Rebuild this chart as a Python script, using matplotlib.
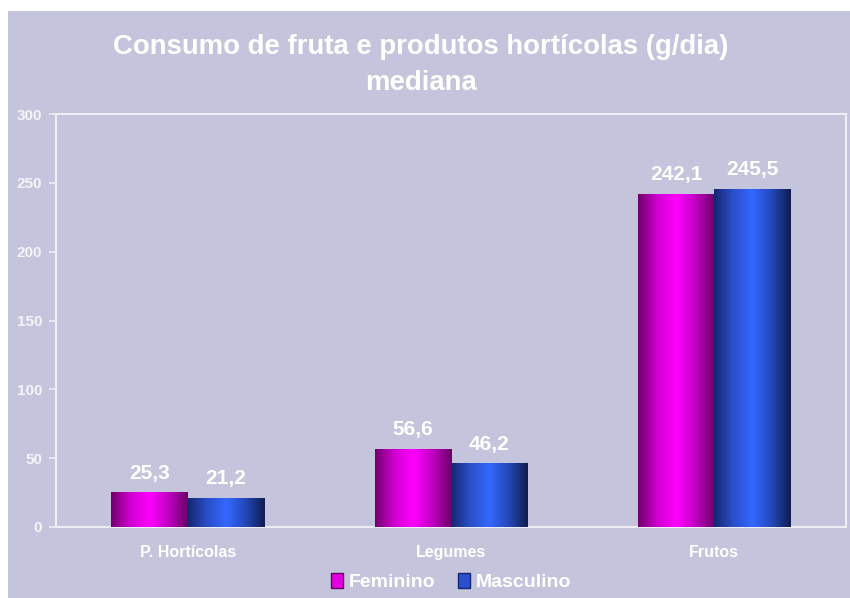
import numpy as np
import matplotlib.pyplot as plt
from matplotlib.colors import LinearSegmentedColormap
from matplotlib.patches import Rectangle

categories = ['P. Hortícolas', 'Legumes', 'Frutos']
feminino = [25.3, 56.6, 242.1]
masculino = [21.2, 46.2, 245.5]
series_names = ['Feminino', 'Masculino']

plt.rcParams['font.family'] = ['Liberation Sans', 'DejaVu Sans']
plt.rcParams['font.weight'] = 'bold'

bg = '#C4C4DC'
line_col = '#EEEEF4'

fem_cmap = LinearSegmentedColormap.from_list('fem', ['#70006A', '#D000D0', '#FF00FF', '#C000C0', '#6A0068'])
mas_cmap = LinearSegmentedColormap.from_list('mas', ['#142670', '#2A50C8', '#3468FF', '#2448B8', '#101C50'])

fig = plt.figure(figsize=(8.5, 5.98), dpi=100)
fig.patch.set_facecolor('white')
fig.add_artist(Rectangle((8 / 850, 0), 1, 1 - 11 / 598, transform=fig.transFigure,
                         facecolor=bg, edgecolor='none', zorder=0))

ax = fig.add_axes([56 / 850, 1 - 527 / 598, 790 / 850, 413 / 598])
ax.set_facecolor(bg)

x = np.arange(len(categories))
w = 0.29
gradient = np.linspace(0, 1, 256).reshape(1, -1)

def gradient_bars(xs, vals, cmap):
    bars = ax.bar(xs, vals, width=w, color='none', edgecolor='none', zorder=3)
    for b in bars:
        x0, y0 = b.get_x(), b.get_y()
        im = ax.imshow(gradient, cmap=cmap, aspect='auto', zorder=3,
                       extent=[x0, x0 + b.get_width(), y0, y0 + b.get_height()])
        im.set_clip_path(b)
    for xi, v in zip(xs, vals):
        ax.text(xi, v + 7, f'{v:.1f}'.replace('.', ','), ha='center', va='bottom',
                color='white', fontsize=15, fontweight='bold', zorder=4)

gradient_bars(x - w / 2, feminino, fem_cmap)
gradient_bars(x + w / 2, masculino, mas_cmap)

ax.set_xlim(-0.5, 2.5)
ax.set_ylim(0, 300)
ax.set_yticks(range(0, 301, 50))
ax.set_xticks(x)
ax.set_xticklabels(categories)
ax.tick_params(axis='x', length=0, pad=13, labelsize=11.5, labelcolor='white')
ax.tick_params(axis='y', length=5, color=line_col, width=1.2, pad=5, labelsize=11, labelcolor='#F4F4F8')
for s in ax.spines.values():
    s.set_color(line_col)
    s.set_linewidth(1.5)

fig.text(421 / 850, 1 - 47 / 598, 'Consumo de fruta e produtos hortícolas (g/dia)',
         ha='center', va='center', color='white', fontsize=19.8, fontweight='bold')
fig.text(421 / 850, 1 - 83 / 598, 'mediana',
         ha='center', va='center', color='white', fontsize=19.8, fontweight='bold')

handles = [Rectangle((0, 0), 1, 1, facecolor='#E000E0', edgecolor='#6A0068'),
           Rectangle((0, 0), 1, 1, facecolor='#2A50D0', edgecolor='#142670')]
leg = fig.legend(handles, series_names, loc='center', bbox_to_anchor=(451 / 850, 1 - 582 / 598),
                 ncol=2, frameon=False, handlelength=0.6, handleheight=0.8, handletextpad=0.3,
                 columnspacing=1.2, fontsize=14)
for t in leg.get_texts():
    t.set_color('white')
    t.set_fontweight('bold')

fig.savefig('out.png', dpi=100, facecolor=fig.get_facecolor())
